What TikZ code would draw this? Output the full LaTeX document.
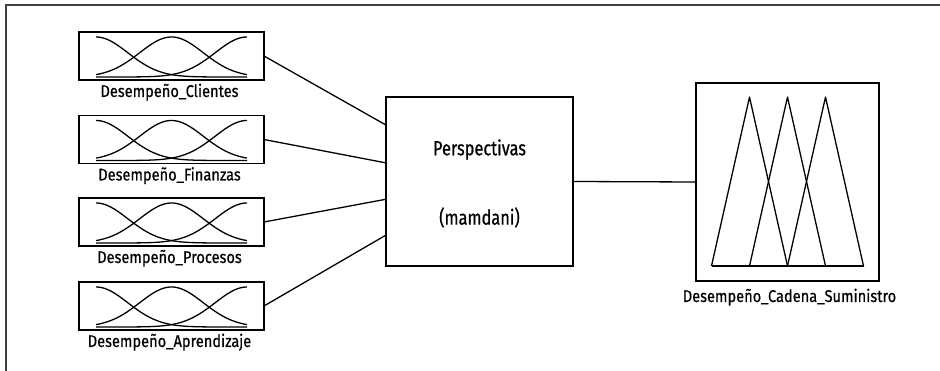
\documentclass[tikz,border=0pt]{standalone}
\usepackage{fontspec}
\setmainfont{Fira Sans}[FakeStretch=0.8]
\newfontfamily\labfont{Fira Sans}[FakeStretch=0.86,FakeBold=0.6]
\newfontfamily\fisfont{Fira Sans}[FakeStretch=0.8,FakeBold=0.6]
\usetikzlibrary{calc}
\begin{document}
\begin{tikzpicture}[x=1pt,y=-1pt,
  line width=1.4pt,
  frameline/.style={draw=black!75,line width=2pt},
  inbox/.style={draw,minimum width=185pt,minimum height=48pt,inner sep=0pt,outer sep=0pt},
  fisbox/.style={draw,minimum width=187pt,minimum height=169pt,inner sep=0pt,outer sep=0pt},
  outbox/.style={draw,minimum width=183pt,minimum height=198pt,inner sep=0pt,outer sep=0pt},
  mf/.style={line width=1.3pt,line join=round},
  varlabel/.style={font=\labfont\fontsize{17}{19}\selectfont,anchor=base,inner sep=0pt},
  fistext/.style={font=\fisfont\fontsize{20.5}{22}\selectfont,inner sep=0pt},
  conn/.style={line width=1.3pt}]
\useasboundingbox (0,0) rectangle (940,371);
\draw[frameline] (6,371) -- (6,5) -- (940,5);

\newcommand\gaussmf[1]{%
  \begin{scope}[shift={(#1.center)}]
    \foreach \c in {-75.5,0,75.5}
      \draw[mf] plot[domain=-75.5:75.5,samples=90,smooth] (\x,{21-40*exp(-0.5*((\x-(\c))/31.8)^2)});
  \end{scope}}

\node[inbox] (in1) at (171.5,56) {};
\node[inbox] (in2) at (171.5,139.5) {};
\node[inbox] (in3) at (171.5,222) {};
\node[inbox] (in4) at (171.5,306) {};
\gaussmf{in1}\gaussmf{in2}\gaussmf{in3}\gaussmf{in4}

\node[varlabel] (l1) at ($(in1.south)+(-2,17)$) {Desempeño\_Clientes};
\node[varlabel] (l2) at ($(in2.south)+(-2,17)$) {Desempeño\_Finanzas};
\node[varlabel] (l3) at ($(in3.south)+(-2,17)$) {Desempeño\_Procesos};
\node[varlabel] (l4) at ($(in4.south)+(-2,17)$) {Desempeño\_Aprendizaje};

\node[fisbox] (fis) at (479.5,181.5) {};
\node[fistext] (fist1) at ($(fis.center)+(0,-32)$) {Perspectivas};
\node[fistext] (fist2) at ($(fis.center)+(0,36)$) {(mamdani)};

\coordinate (p1) at ($(fis.north west)!0.166!(fis.south west)$);
\coordinate (p2) at ($(fis.north west)!0.39!(fis.south west)$);
\coordinate (p3) at ($(fis.north west)!0.605!(fis.south west)$);
\coordinate (p4) at ($(fis.north west)!0.817!(fis.south west)$);
\draw[conn] (in1.east) -- (p1);
\draw[conn] (in2.east) -- (p2);
\draw[conn] (in3.east) -- (p3);
\draw[conn] (in4.east) -- (p4);

\node[outbox] (out) at (787.5,182) {};
\draw[conn] (fis.east) -- (out.west);
\begin{scope}[shift={(out.center)}]
  \draw[mf] (-76,84) -- (-38,-85) -- (0,84);
  \draw[mf] (-38,84) -- (0,-85) -- (38,84);
  \draw[mf] (0,84) -- (38,-85) -- (76,84);
  \draw[mf] (-76,84) -- (76,84);
\end{scope}
\node[varlabel] (lo) at ($(out.south)+(2,21)$) {Desempeño\_Cadena\_Suministro};
\end{tikzpicture}
\end{document}
